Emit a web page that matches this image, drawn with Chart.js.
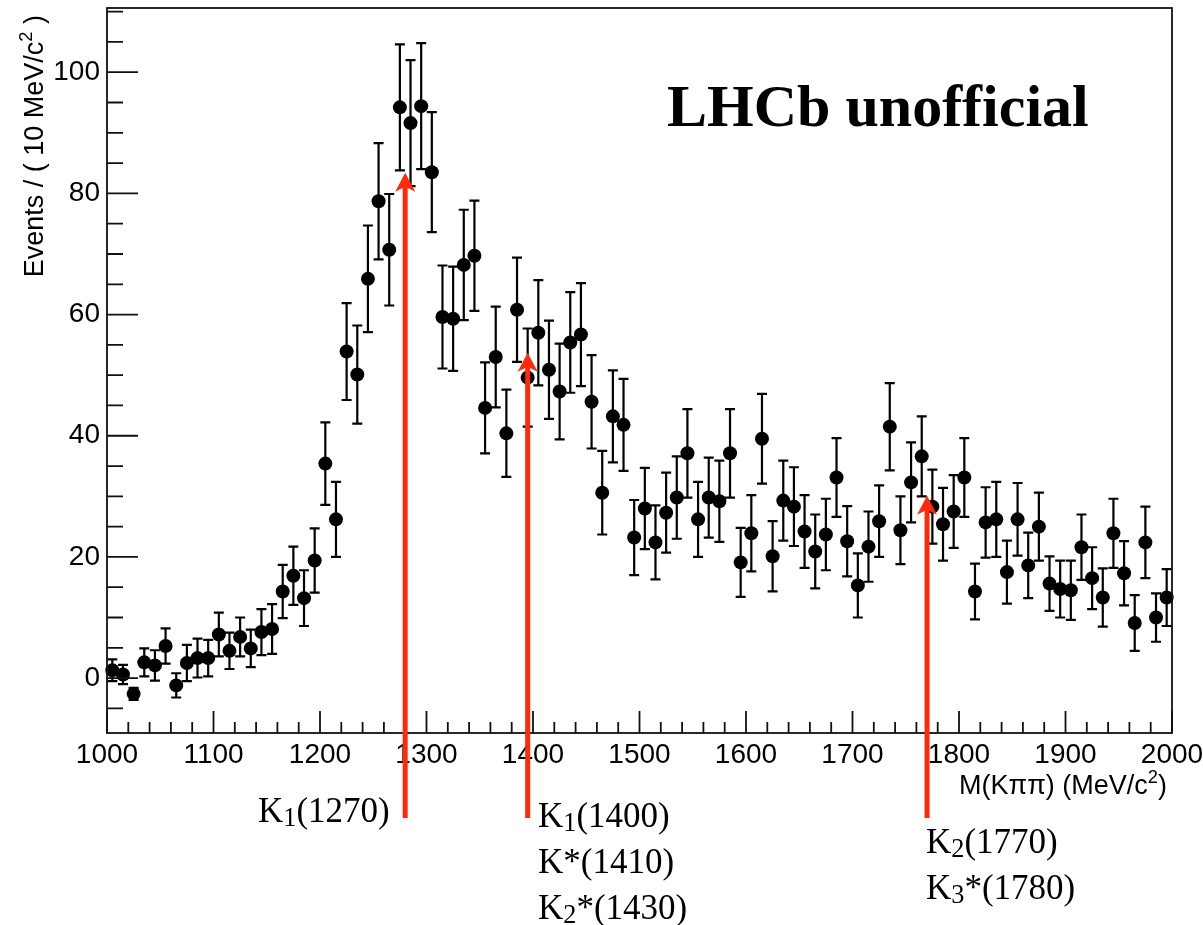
<!DOCTYPE html>
<html>
<head>
<meta charset="utf-8">
<script src="https://cdn.jsdelivr.net/npm/chart.js@4.4.1/dist/chart.umd.min.js"></script>
<style>
  html, body { margin: 0; padding: 0; background: #fff; }
  #wrap { width: 1203px; height: 925px; }
</style>
</head>
<body>
<div id="wrap"><canvas id="massChart" width="1203" height="925"></canvas></div>
<script>
// M(K pi pi) spectrum, 10 MeV bins
const massBins = [
  1005, 1015, 1025, 1035, 1045, 1055, 1065, 1075, 1085, 1095,
  1105, 1115, 1125, 1135, 1145, 1155, 1165, 1175, 1185, 1195,
  1205, 1215, 1225, 1235, 1245, 1255, 1265, 1275, 1285, 1295,
  1305, 1315, 1325, 1335, 1345, 1355, 1365, 1375, 1385, 1395,
  1405, 1415, 1425, 1435, 1445, 1455, 1465, 1475, 1485, 1495,
  1505, 1515, 1525, 1535, 1545, 1555, 1565, 1575, 1585, 1595,
  1605, 1615, 1625, 1635, 1645, 1655, 1665, 1675, 1685, 1695,
  1705, 1715, 1725, 1735, 1745, 1755, 1765, 1775, 1785, 1795,
  1805, 1815, 1825, 1835, 1845, 1855, 1865, 1875, 1885, 1895,
  1905, 1915, 1925, 1935, 1945, 1955, 1965, 1975, 1985, 1995
];
const events = [
  1.3, 0.6, -2.6, 2.6, 2.1, 5.3, -1.2, 2.5, 3.3, 3.3,
  7.2, 4.5, 6.8, 4.9, 7.6, 8.1, 14.3, 16.9, 13.2, 19.4,
  35.4, 26.2, 53.9, 50.1, 65.9, 78.7, 70.7, 94.2, 91.6, 94.4,
  83.5, 59.6, 59.3, 68.2, 69.7, 44.6, 53.0, 40.4, 60.8, 49.6,
  57.0, 50.9, 47.3, 55.4, 56.7, 45.6, 30.6, 43.2, 41.8, 23.2,
  28.0, 22.4, 27.3, 29.8, 37.1, 26.2, 29.8, 29.2, 37.1, 19.1,
  23.9, 39.5, 20.1, 29.3, 28.3, 24.2, 20.9, 23.7, 33.1, 22.6,
  15.3, 21.7, 25.9, 41.5, 24.4, 32.3, 36.6, 28.3, 25.4, 27.5,
  33.1, 14.3, 25.7, 26.2, 17.5, 26.2, 18.6, 25.0, 15.6, 14.7,
  14.5, 21.6, 16.5, 13.3, 23.9, 17.3, 9.1, 22.4, 10.0, 13.3
];
const errors = [
  1.8, 1.6, 1.0, 2.3, 2.5, 2.9, 2.0, 3.0, 3.2, 3.0,
  3.6, 3.0, 3.2, 3.1, 3.8, 4.1, 4.4, 4.8, 4.6, 5.3,
  6.8, 6.2, 8.0, 8.1, 8.8, 9.6, 9.2, 10.4, 10.4, 10.4,
  9.9, 8.5, 8.6, 9.1, 9.1, 7.5, 8.3, 7.2, 8.6, 8.1,
  8.7, 8.1, 7.9, 8.3, 8.5, 7.7, 6.9, 7.6, 7.6, 6.2,
  6.7, 6.1, 6.6, 6.8, 7.3, 6.2, 6.6, 6.7, 7.3, 5.7,
  6.3, 7.4, 5.8, 6.6, 6.5, 6.0, 6.1, 5.9, 6.5, 5.8,
  5.3, 5.8, 5.9, 7.2, 5.6, 6.6, 6.6, 6.1, 6.0, 6.0,
  6.5, 4.6, 5.8, 6.2, 5.2, 6.0, 5.4, 5.6, 4.5, 4.7,
  4.9, 5.4, 5.1, 4.8, 5.7, 5.3, 4.6, 5.9, 4.0, 4.7
];

// axis tick labels
const xTickValues = [1000, 1100, 1200, 1300, 1400, 1500, 1600, 1700, 1800, 1900, 2000];
const yTickValues = [0, 20, 40, 60, 80, 100];

// resonance markers
const arrowMass = [1280, 1395, 1770];
const arrowTip = [83.4, 53.7, 30.1];
const arrowBase = -23.1;
const resonanceLabels = [
  [['K', ''], ['1', 'sub'], ['(1270)', '']],
  [['K', ''], ['1', 'sub'], ['(1400)', '']],
  [['K*(1410)', '']],
  [['K', ''], ['2', 'sub'], ['*(1430)', '']],
  [['K', ''], ['2', 'sub'], ['(1770)', '']],
  [['K', ''], ['3', 'sub'], ['*(1780)', '']]
];

const SANS = "'Liberation Sans', Arial, sans-serif";
const SERIF = "'Liberation Serif', 'Times New Roman', serif";

// draw a run of text pieces with sub/superscripts; align 'left' or 'right'
function drawRich(c, parts, x, y, size, family, align, subScale) {
  const sized = parts.map(([t, kind]) => {
    const s = kind ? size * (subScale || 0.68) : size;
    c.font = s + 'px ' + family;
    return { t, kind, s, w: c.measureText(t).width };
  });
  const total = sized.reduce((a, p) => a + p.w, 0);
  let cx = align === 'right' ? x - total : x;
  sized.forEach(p => {
    c.font = p.s + 'px ' + family;
    let dy = 0;
    if (p.kind === 'sub') dy = size * 0.12;
    if (p.kind === 'sup') dy = -size * 0.42;
    c.fillText(p.t, cx, y + dy);
    cx += p.w;
  });
}

const rootStyle = {
  id: 'rootStyle',
  beforeDatasetsDraw(chart) {
    const c = chart.ctx, xs = chart.scales.x, ys = chart.scales.y;
    c.save();
    c.strokeStyle = '#000';
    c.lineWidth = 2.2;
    massBins.forEach((m, i) => {
      const px = xs.getPixelForValue(m);
      const lo = ys.getPixelForValue(events[i] - errors[i]);
      const hi = ys.getPixelForValue(events[i] + errors[i]);
      c.beginPath();
      c.moveTo(px, lo); c.lineTo(px, hi);
      c.moveTo(px - 5, lo); c.lineTo(px + 5, lo);
      c.moveTo(px - 5, hi); c.lineTo(px + 5, hi);
      c.stroke();
    });
    c.restore();
  },
  afterDraw(chart) {
    const c = chart.ctx, xs = chart.scales.x, ys = chart.scales.y;
    const a = chart.chartArea;
    c.save();

    // frame
    c.strokeStyle = '#111';
    c.lineWidth = 1.8;
    c.strokeRect(a.left, a.top, a.right - a.left, a.bottom - a.top);

    // inside ticks, ROOT style
    c.beginPath();
    for (let v = 1000; v <= 2000; v += 20) {
      const px = xs.getPixelForValue(v);
      const len = v % 100 === 0 ? 22 : 11;
      c.moveTo(px, a.bottom); c.lineTo(px, a.bottom - len);
    }
    for (let v = -5; v <= 110; v += 5) {
      const py = ys.getPixelForValue(v);
      const len = v % 20 === 0 ? 31 : 16;
      c.moveTo(a.left, py); c.lineTo(a.left + len, py);
    }
    c.stroke();

    // axis titles
    c.fillStyle = '#000';
    c.textBaseline = 'alphabetic';
    c.textAlign = 'left';
    drawRich(c, [['M(K\u03c0\u03c0) (MeV/c', ''], ['2', 'sup'], [')', '']], 1167, 794, 27, SANS, 'right');
    c.save();
    c.translate(43, 15);
    c.rotate(-Math.PI / 2);
    drawRich(c, [['Events / ( 10 MeV/c', ''], ['2', 'sup'], [' )', '']], 0, 0, 27, SANS, 'right');
    c.restore();

    // watermark
    c.font = 'bold 60px ' + SERIF;
    c.fillText('LHCb unofficial', 667, 126);

    // arrows
    c.fillStyle = '#ff2a0a';
    c.strokeStyle = '#ff2a0a';
    c.lineWidth = 5;
    arrowMass.forEach((m, i) => {
      const px = xs.getPixelForValue(m);
      const tip = ys.getPixelForValue(arrowTip[i]);
      const base = ys.getPixelForValue(arrowBase);
      c.beginPath();
      c.moveTo(px, tip + 12); c.lineTo(px, base);
      c.stroke();
      c.beginPath();
      c.moveTo(px, tip);
      c.lineTo(px - 10, tip + 19);
      c.lineTo(px, tip + 14);
      c.lineTo(px + 10, tip + 19);
      c.closePath();
      c.fill();
    });

    // resonance names
    c.fillStyle = '#000';
    const labelPos = [[258, 822], [538, 827], [538, 873], [538, 919], [926, 853], [926, 899]];
    resonanceLabels.forEach((parts, i) => {
      drawRich(c, parts, labelPos[i][0], labelPos[i][1], 35, SERIF, 'left', 0.75);
    });
    c.restore();
  }
};

const ctx = document.getElementById('massChart').getContext('2d');
new Chart(ctx, {
  type: 'scatter',
  data: {
    datasets: [{
      data: massBins.map((m, i) => ({ x: m, y: events[i] })),
      pointRadius: 7,
      pointBackgroundColor: '#000',
      pointBorderWidth: 0,
      pointHoverRadius: 7,
      showLine: false,
      clip: false
    }]
  },
  options: {
    responsive: false,
    animation: false,
    devicePixelRatio: 1,
    layout: { padding: { top: 8, right: 31, left: 0, bottom: 0 } },
    plugins: { legend: { display: false }, tooltip: { enabled: false } },
    scales: {
      x: {
        type: 'linear',
        min: 1000,
        max: 2000,
        grid: { display: false, drawTicks: false },
        border: { display: false },
        afterBuildTicks: s => { s.ticks = xTickValues.map(v => ({ value: v })); },
        afterFit: s => { s.height = 192; s.paddingLeft = 0; s.paddingRight = 0; },
        ticks: {
          font: { family: SANS, size: 28 },
          color: '#000',
          padding: 5,
          maxRotation: 0,
          autoSkip: false,
          callback: v => String(v)
        }
      },
      y: {
        min: -9.06,
        max: 110.6,
        grid: { display: false, drawTicks: false },
        border: { display: false },
        afterBuildTicks: s => { s.ticks = yTickValues.map(v => ({ value: v })); },
        afterFit: s => { s.width = 107; s.paddingTop = 0; s.paddingBottom = 0; },
        ticks: {
          font: { family: SANS, size: 28 },
          color: '#000',
          padding: 7,
          autoSkip: false,
          callback: v => String(v)
        }
      }
    }
  },
  plugins: [rootStyle]
});
</script>
</body>
</html>
